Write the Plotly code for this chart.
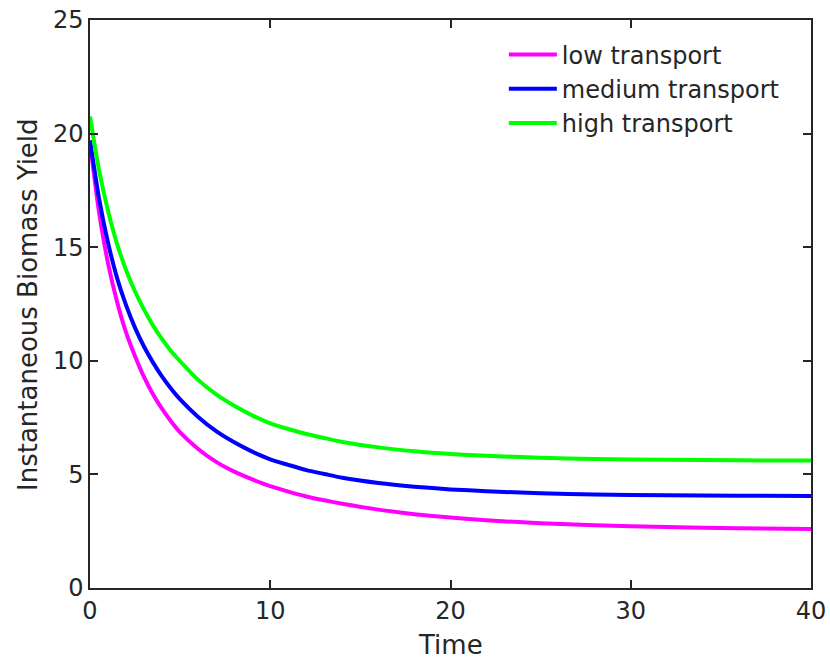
import plotly.graph_objects as go

time = [0, 0.5, 1, 1.5, 2, 2.5, 3, 3.5, 4, 4.5, 5, 6, 7, 8, 9, 10, 11, 12, 13, 14,
        16, 18, 20, 22, 25, 28, 32, 36, 40]
low_transport = [19.6, 16.55, 14.3, 12.6, 11.25, 10.2, 9.28, 8.52, 7.88, 7.33, 6.85, 6.12, 5.55,
                 5.12, 4.78, 4.48, 4.24, 4.03, 3.86, 3.71, 3.45, 3.25, 3.10, 2.98, 2.85, 2.76,
                 2.68, 2.63, 2.60]
medium_transport = [19.7, 17.15, 15.2, 13.65, 12.45, 11.45, 10.62, 9.92, 9.3, 8.77, 8.3, 7.53, 6.9,
                    6.41, 6.0, 5.66, 5.42, 5.19, 5.02, 4.85, 4.62, 4.46, 4.34, 4.26, 4.17, 4.12,
                    4.08, 4.06, 4.05]
high_transport = [20.75, 18.4, 16.6, 15.15, 14.0, 13.05, 12.25, 11.55, 10.95, 10.42, 9.98, 9.16, 8.52,
                  8.02, 7.6, 7.25, 7.0, 6.78, 6.6, 6.43, 6.19, 6.02, 5.9, 5.82, 5.73, 5.68,
                  5.64, 5.62, 5.61]
x_ticks = [0, 10, 20, 30, 40]
y_ticks = [0, 5, 10, 15, 20, 25]

series = [
    ("low transport", low_transport, "#ff00ff"),
    ("medium transport", medium_transport, "#0000ff"),
    ("high transport", high_transport, "#00ff00"),
]

fig = go.Figure()
for name, vals, color in series:
    fig.add_trace(go.Scatter(x=time, y=vals, mode="lines", name=name,
                             line=dict(color=color, width=4, shape="spline", smoothing=0.6)))

axis_color = "#262626"
font_family = "DejaVu Sans"
common_axis = dict(showline=True, linecolor=axis_color, linewidth=1.5, mirror="ticks",
                   ticks="inside", ticklen=8, tickcolor=axis_color, tickwidth=1.5,
                   showgrid=False, zeroline=False, automargin=False,
                   ticklabeloverflow="allow",
                   tickfont=dict(family=font_family, size=24, color=axis_color))

fig.update_layout(
    width=830, height=662,
    margin=dict(l=90, r=19, t=20, b=74),
    paper_bgcolor="white", plot_bgcolor="white",
    font=dict(family=font_family, color=axis_color),
    xaxis=dict(range=[0, 40], tickvals=x_ticks, **common_axis),
    yaxis=dict(range=[0, 25], tickvals=y_ticks, **common_axis),
    legend=dict(x=0.574, y=0.978, xanchor="left", yanchor="top", itemwidth=48,
                bgcolor="rgba(255,255,255,0)", borderwidth=0,
                font=dict(family=font_family, size=24, color=axis_color)),
    showlegend=True,
    annotations=[
        dict(text="Time", xref="paper", yref="paper", x=0.5, y=-0.1004,
             xanchor="center", yanchor="middle", showarrow=False,
             font=dict(family=font_family, size=26, color=axis_color)),
        dict(text="Instantaneous Biomass Yield", xref="paper", yref="paper", x=-0.086, y=0.5,
             xanchor="center", yanchor="middle", showarrow=False, textangle=-90,
             font=dict(family=font_family, size=26, color=axis_color)),
    ],
)

fig.write_html("out.html", config={"displayModeBar": False},
               post_script="document.body.style.margin='0px';document.body.style.overflow='hidden';")
